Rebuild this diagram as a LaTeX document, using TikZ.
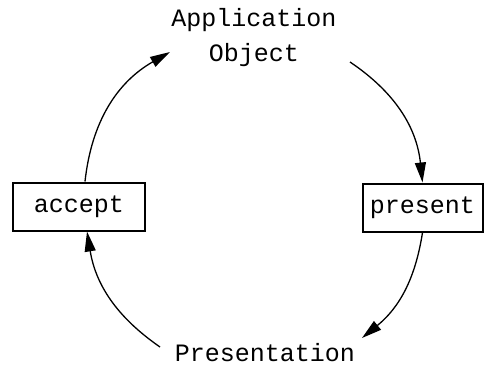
\documentclass[tikz,border=0pt]{standalone}
\usepackage{fontspec}
\setmonofont{Liberation Mono}
\usetikzlibrary{arrows.meta}
\begin{document}
\begin{tikzpicture}[x=1pt,y=1pt,
  lbl/.style={font=\fontsize{25}{35}\selectfont\ttfamily, inner sep=0pt},
  box/.style={lbl, draw, line width=2pt, minimum height=48pt},
  flow/.style={line width=1.3pt, -{Triangle[length=20pt,width=11pt]}}]
\useasboundingbox (0,0) rectangle (484,365);
\node[lbl, align=center, anchor=base] (app) at (254,303) {Application\\Object};
\node[box, minimum width=132pt] (accept) at (79,158.5) {accept};
\node[box, minimum width=120pt] (present) at (422.5,157.5) {present};
\node[lbl, anchor=base] (pres) at (265,4) {Presentation};
\coordinate (a1) at (170,313);
\coordinate (a2) at (350,303);
\coordinate (a3) at (362,27);
\coordinate (a4) at (160,18);
\draw[flow] ([xshift=6pt]accept.north) to[bend left=27] (a1);
\draw[flow] (a2) to[bend left=25] (present.north);
\draw[flow] (present.south) to[bend left=21] (a3);
\draw[flow] (a4) to[bend left=23] ([xshift=8pt]accept.south);
\end{tikzpicture}
\end{document}
